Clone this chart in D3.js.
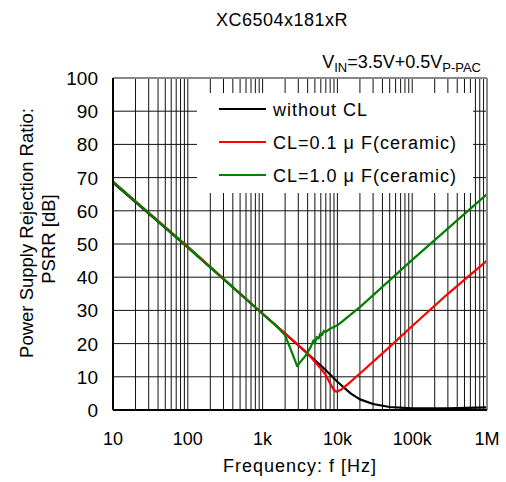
<!DOCTYPE html>
<meta charset="utf-8">
<style>
  body { margin: 0; background: #fff; }
  text { font-family: "Liberation Sans", Arial, sans-serif; fill: #000; }
  .grid line { stroke: #111; stroke-width: 1; }
  .curve { fill: none; stroke-width: 2.2; stroke-linejoin: round; }
</style>
<body>
<div id="chart"></div>
<script src="https://d3js.org/d3.v7.min.js"></script>
<script>
// chart data
var xTicks = [10, 100, 1000, 10000, 100000, 1000000];
var xTickLabels = ["10", "100", "1k", "10k", "100k", "1M"];
var yTicks = [0, 10, 20, 30, 40, 50, 60, 70, 80, 90, 100];

var withoutCL = [
  [10, 68.5], [100, 49], [1000, 29], [2000, 23], [3000, 19.5], [4000, 17],
  [5000, 15], [7000, 12], [10000, 8.5], [15000, 5], [20000, 3.2], [30000, 1.8],
  [50000, 0.9], [100000, 0.5], [300000, 0.5], [1000000, 0.8]
];
var cl01 = [
  [10, 68.7], [100, 49.2], [1000, 29], [2000, 23], [3000, 19.5], [4000, 17],
  [5000, 14.5], [6000, 12.5], [7000, 10.5], [8000, 8], [9000, 6], [9700, 5.5],
  [11000, 6], [15000, 8.5], [20000, 11], [50000, 19], [100000, 25.3],
  [300000, 35], [1000000, 45]
];
var cl10 = [
  [10, 68.8], [100, 49], [1000, 29], [1500, 25.5], [2000, 22.5], [2500, 17],
  [2900, 13.2], [3200, 14.5], [3800, 16.5], [4400, 19], [4800, 21], [5000, 20],
  [5300, 22], [5600, 21.5], [5900, 23], [6200, 22.5], [6600, 23.8], [7000, 23.5],
  [8000, 24.5], [10000, 25.5], [20000, 31], [100000, 45.2], [1000000, 65]
];
var seriesNames = ["without CL", "CL=0.1 \u03bc F(ceramic)", "CL=1.0 \u03bc F(ceramic)"];
var seriesColors = ["#000000", "#ff0000", "#008000"];

var W = 506, H = 482;
var margin = { top: 78, right: 19, bottom: 72, left: 113 },
  width = W - margin.left - margin.right,
  height = H - margin.top - margin.bottom;

var x = d3.scaleLog().domain([10, 1000000]).range([0, width]);
var y = d3.scaleLinear().domain([0, 100]).range([height, 0]);

var svg = d3.select("#chart").append("svg")
  .attr("width", W)
  .attr("height", H);

var g = svg.append("g")
  .attr("transform", "translate(" + margin.left + "," + margin.top + ")");

// minor + major vertical grid lines (2..9 in every decade)
var vLines = [];
for (var d = 10; d < 1000000; d *= 10) {
  for (var k = 1; k < 10; k++) vLines.push(d * k);
}
vLines.push(1000000);

var grid = g.append("g").attr("class", "grid");
grid.selectAll(".v").data(vLines).enter().append("line")
  .attr("x1", function(d) { return x(d); })
  .attr("x2", function(d) { return x(d); })
  .attr("y1", 0).attr("y2", height);
grid.selectAll(".h").data(yTicks).enter().append("line")
  .attr("x1", 0).attr("x2", width)
  .attr("y1", function(d) { return y(d); })
  .attr("y2", function(d) { return y(d); });

// curves
var line = d3.line()
  .x(function(d) { return x(d[0]); })
  .y(function(d) { return y(d[1]); });

[withoutCL, cl01, cl10].forEach(function(s, i) {
  g.append("path")
    .datum(s)
    .attr("class", "curve")
    .attr("stroke", seriesColors[i])
    .attr("d", line);
});

// legend box covers the grid
var lg = g.append("g").attr("transform", "translate(" + (197 - margin.left) + "," + (93 - margin.top) + ")");
lg.append("rect")
  .attr("width", 276).attr("height", 100)
  .attr("fill", "#fff");
seriesNames.forEach(function(n, i) {
  var yy = [16, 49, 82][i];
  lg.append("line")
    .attr("x1", 22).attr("x2", 69)
    .attr("y1", yy).attr("y2", yy)
    .attr("stroke", seriesColors[i])
    .attr("stroke-width", 2);
  lg.append("text")
    .attr("x", 76).attr("y", yy + 7)
    .style("font-size", "18px")
    .style("letter-spacing", "1px")
    .text(n);
});

// frame
g.append("line").attr("x1", 0).attr("x2", width).attr("y1", 0).attr("y2", 0)
  .attr("stroke", "#888").attr("stroke-width", 2);
g.append("line").attr("x1", width).attr("x2", width).attr("y1", 0).attr("y2", height)
  .attr("stroke", "#888").attr("stroke-width", 2);
g.append("line").attr("x1", 0).attr("x2", 0).attr("y1", 0).attr("y2", height)
  .attr("stroke", "#000").attr("stroke-width", 2);
g.append("line").attr("x1", 0).attr("x2", width).attr("y1", height).attr("y2", height)
  .attr("stroke", "#000").attr("stroke-width", 2);

// tick labels
g.selectAll(".ylab").data(yTicks).enter().append("text")
  .attr("x", -15)
  .attr("y", function(d) { return y(d) + 7; })
  .attr("text-anchor", "end")
  .style("font-size", "19px")
  .text(function(d) { return d; });

g.selectAll(".xlab").data(xTicks).enter().append("text")
  .attr("x", function(d) { return x(d); })
  .attr("y", height + 35)
  .attr("text-anchor", "middle")
  .style("font-size", "18px")
  .text(function(d, i) { return xTickLabels[i]; });

// titles
svg.append("text")
  .attr("x", 282).attr("y", 26)
  .attr("text-anchor", "middle")
  .style("font-size", "18px")
  .style("letter-spacing", "0.5px")
  .text("XC6504x181xR");

var sub = svg.append("text")
  .attr("x", 481).attr("y", 68)
  .attr("text-anchor", "end")
  .style("font-size", "18px");
sub.append("tspan").text("V");
sub.append("tspan").attr("dy", 4).style("font-size", "13px").text("IN");
sub.append("tspan").attr("dy", -4).text("=3.5V+0.5V");
sub.append("tspan").attr("dy", 4).style("font-size", "13px").text("P-PAC");

svg.append("text")
  .attr("x", 300).attr("y", 472)
  .attr("text-anchor", "middle")
  .style("font-size", "18px")
  .style("letter-spacing", "1px")
  .text("Frequency: f [Hz]");

svg.append("text")
  .attr("transform", "translate(33,233) rotate(-90)")
  .attr("text-anchor", "middle")
  .style("font-size", "18.5px")
  .text("Power Supply Rejection Ratio:");
svg.append("text")
  .attr("transform", "translate(55,239) rotate(-90)")
  .attr("text-anchor", "middle")
  .style("font-size", "18.5px")
  .text("PSRR [dB]");
</script>
</body>
